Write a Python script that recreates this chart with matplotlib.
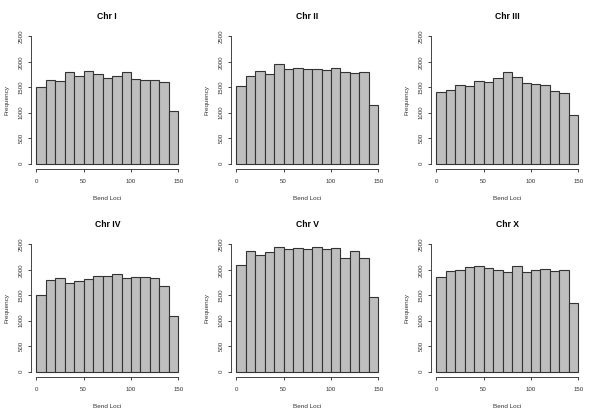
import matplotlib
matplotlib.use("Agg")
import matplotlib.pyplot as plt
import numpy as np

plt.rcParams['font.family'] = ['Liberation Sans', 'DejaVu Sans']

bin_edges = [0, 10, 20, 30, 40, 50, 60, 70, 80, 90, 100, 110, 120, 130, 140, 150]
titles = ["Chr I", "Chr II", "Chr III", "Chr IV", "Chr V", "Chr X"]
chr_I = [1499, 1636, 1616, 1800, 1715, 1813, 1754, 1688, 1715, 1806, 1662, 1643, 1636, 1610, 1027]
chr_II = [1525, 1715, 1813, 1767, 1950, 1852, 1872, 1865, 1852, 1839, 1872, 1800, 1787, 1800, 1158]
chr_III = [1407, 1446, 1538, 1518, 1616, 1603, 1675, 1800, 1695, 1584, 1564, 1551, 1427, 1381, 949]
chr_IV = [1499, 1806, 1839, 1747, 1774, 1826, 1885, 1885, 1911, 1839, 1852, 1852, 1832, 1688, 1086]
chr_V = [2094, 2363, 2284, 2349, 2441, 2415, 2428, 2415, 2448, 2408, 2421, 2232, 2363, 2232, 1459]
chr_X = [1852, 1970, 1996, 2062, 2081, 2042, 2003, 1950, 2068, 1950, 1990, 2009, 1976, 1996, 1342]
x_ticks = [0, 50, 100, 150]
y_ticks = [0, 500, 1000, 1500, 2000, 2500]

series = [chr_I, chr_II, chr_III, chr_IV, chr_V, chr_X]

fig = plt.figure(figsize=(6.0, 4.16), dpi=100)
W, H = 600, 416
for i, (title, counts) in enumerate(zip(titles, series)):
    r, c = divmod(i, 3)
    left = (30.6 + 200 * c) / W
    bottom = (H - (168.8 + 208 * r)) / H
    ax = fig.add_axes([left, bottom, 153.4 / W, 137.6 / H])
    edges = np.array(bin_edges)
    ax.hist(edges[:-1], bins=edges, weights=counts, color='#BEBEBE',
            edgecolor='#333333', linewidth=0.8)
    ax.set_xlim(-6, 156)
    ax.set_ylim(-100, 2600)
    for s in ['top', 'right']:
        ax.spines[s].set_visible(False)
    ax.spines['left'].set_bounds(0, 2500)
    ax.spines['bottom'].set_bounds(0, 150)
    for s in ['left', 'bottom']:
        ax.spines[s].set_linewidth(0.7)
        ax.spines[s].set_color('#444444')
    ax.set_xticks(x_ticks)
    ax.set_yticks(y_ticks)
    ax.set_yticklabels([str(v) for v in y_ticks], rotation=90, va='center')
    ax.tick_params(axis='both', length=2.2, width=0.7, color='#444444',
                   labelsize=4.4, labelcolor='#333333')
    ax.tick_params(axis='x', pad=5.5)
    ax.tick_params(axis='y', pad=2.5)
    ax.set_title(title, fontsize=6.2, fontweight='bold', pad=9)
    ax.set_xlabel("Bend Loci", fontsize=4.6, color='#333333', labelpad=8)
    ax.set_ylabel("Frequency", fontsize=4.6, color='#333333', labelpad=7)

fig.savefig("out.png", dpi=100)
